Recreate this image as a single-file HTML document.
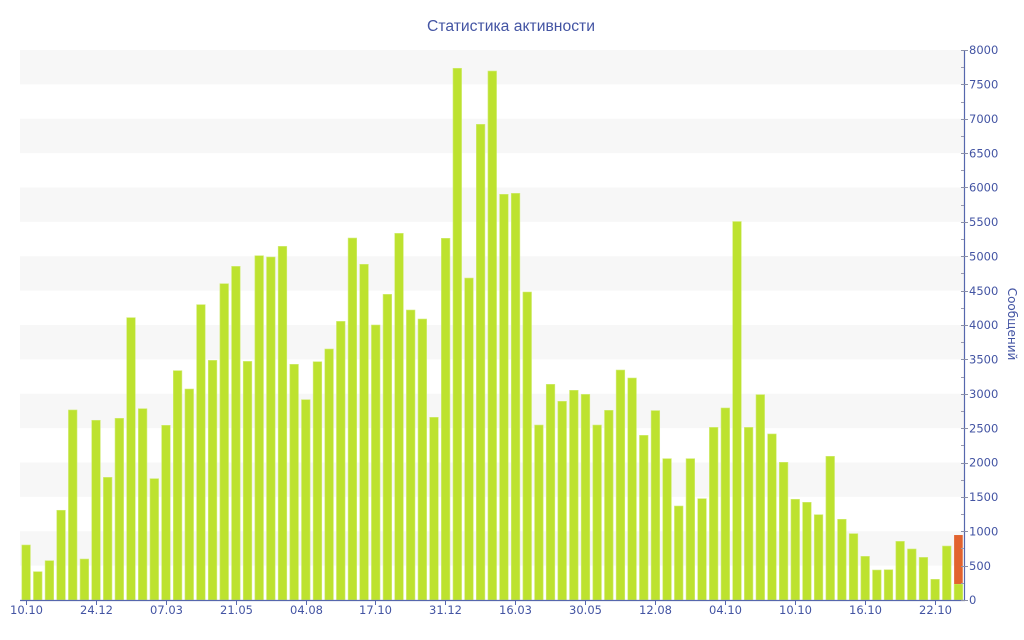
<!DOCTYPE html>
<html><head><meta charset="utf-8"><style>
html,body{margin:0;padding:0;background:#fff;}
svg{display:block;}
</style></head><body>
<svg width="1024" height="640" viewBox="0 0 1024 640" xmlns="http://www.w3.org/2000/svg" font-family="'DejaVu Sans', 'Liberation Sans', sans-serif">
<rect width="1024" height="640" fill="#fff"/>
<g id="stripes" fill="#f7f7f7"></g>
<g id="bars"></g>
<g id="axis"></g>
<text x="511" y="31" text-anchor="middle" font-family="'Liberation Sans', sans-serif" font-size="15.5" fill="#4354a3" textLength="168" lengthAdjust="spacingAndGlyphs">Статистика активности</text>
<text transform="translate(1008,324) rotate(90)" text-anchor="middle" font-size="12" fill="#4354a3">Сообщений</text>
<g id="ylabels" font-size="11.5" fill="#4354a3"></g>
<g id="xlabels" font-size="11.5" fill="#4354a3" text-anchor="middle"></g>
</svg>
<script>
var NS="http://www.w3.org/2000/svg";
function el(t,a,p,txt){var e=document.createElementNS(NS,t);for(var k in a)e.setAttribute(k,a[k]);if(txt!==undefined)e.textContent=txt;document.getElementById(p).appendChild(e);return e;}
function Y(v){return 600-v*0.06875;}
for(var v=500;v<8000;v+=1000){el('rect',{x:20,y:Y(v+500),width:944,height:34.375},'stripes');}
var vals=[800,412,572,1305,2764,596,2614,1784,2643,4107,2783,1765,2541,3336,3069,4296,3486,4601,4853,3471,5008,4989,5144,3428,2914,3466,3651,4053,5265,4883,4000,4446,5333,4218,4087,2657,5261,7734,4683,6919,7694,5901,5915,4480,2545,3137,2890,3050,2991,2545,2759,3345,3229,2395,2755,2056,1367,2056,1474,2511,2793,5505,2511,2987,2415,2003,1465,1421,1241,2090,1174,965,635,436,440,853,742,620,301,785,233];
var pitch=11.654;
for(var i=0;i<vals.length;i++){
 var x=21.8+i*pitch;
 el('rect',{x:x,y:Y(vals[i]),width:8.6,height:600-Y(vals[i]),fill:'#bde22f',stroke:'#d2ec78','stroke-width':0.6},'bars');
}
// orange segment on last bar
var lx=21.8+80*pitch;
el('rect',{x:lx,y:Y(945),width:8.6,height:Y(233)-Y(945),fill:'#e2632f'},'bars');
// axes
el('line',{x1:964.5,y1:50,x2:964.5,y2:601,stroke:'#5667ad','stroke-width':1.2},'axis');
el('line',{x1:20,y1:600.5,x2:965,y2:600.5,stroke:'#5667ad','stroke-width':1.2},'axis');
for(var v=0;v<=8000;v+=250){
 var y=Math.round(Y(v))+0.5;
 if(v%500==0){
  el('line',{x1:961,y1:y,x2:968,y2:y,stroke:'#8a8fa8','stroke-width':1},'axis');
  el('text',{x:969,y:Y(v)+4.2},'ylabels',String(v));
 } else {
  el('line',{x1:961,y1:y,x2:964,y2:y,stroke:'#9a9ab0','stroke-width':1},'axis');
 }
}
var xl=['10.10','24.12','07.03','21.05','04.08','17.10','31.12','16.03','30.05','12.08','04.10','10.10','16.10','22.10'];
for(var j=0;j<xl.length;j++){
 var cx=Math.round(20+(j*6+0.5)*pitch)+0.5;
 el('line',{x1:cx,y1:600,x2:cx,y2:605,stroke:'#5667ad','stroke-width':1},'axis');
 el('text',{x:cx,y:614},'xlabels',xl[j]);
}
</script>
</body></html>
